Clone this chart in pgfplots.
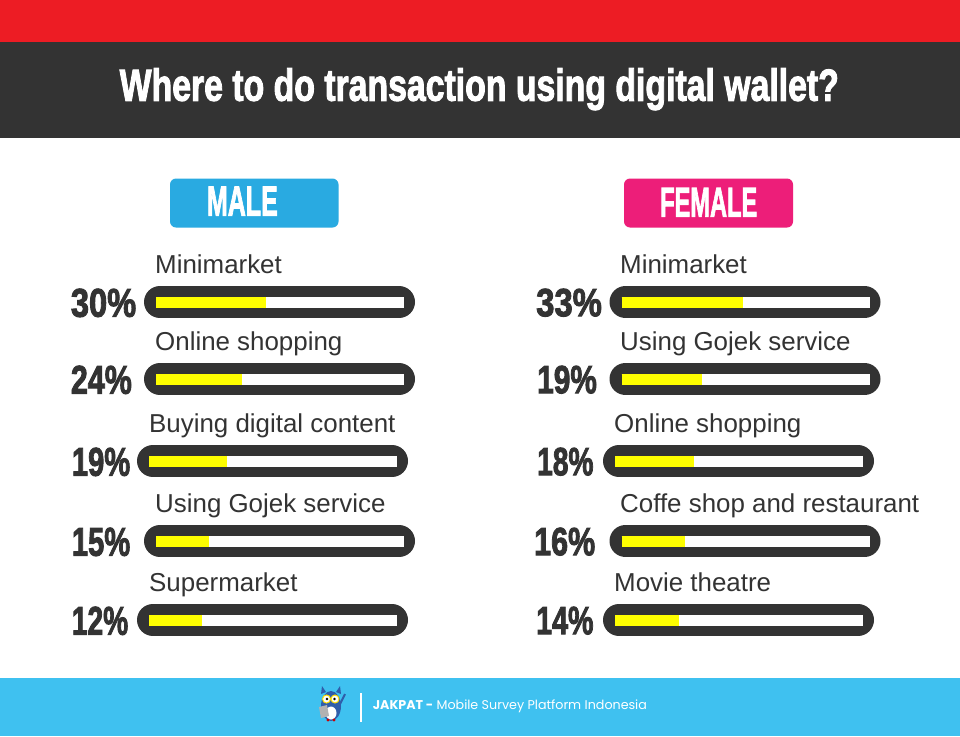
\documentclass[border=0pt]{standalone}
\usepackage{pgfplots}
\pgfplotsset{compat=1.18}
\usepackage{pgfplotstable}
\usepackage{graphicx}
\usepackage{fontspec}
\setmainfont{Liberation Sans}
\newfontfamily\heavy{Liberation Sans}[UprightFont=*-Bold, UprightFeatures={FakeBold=2.5}, BoldFont=*-Bold, BoldFeatures={FakeBold=2.5}]
\newfontfamily\gothic{Poppins}
\definecolor{topred}{HTML}{ED1C24}
\definecolor{dark}{HTML}{333333}
\definecolor{maleblue}{HTML}{29AAE1}
\definecolor{femalepink}{HTML}{ED1E79}
\definecolor{footblue}{HTML}{3FC1F0}
\definecolor{fillyellow}{HTML}{FFFF00}
\definecolor{owlblue}{HTML}{2F5DAA}

% y = row centre (px), left = capsule left edge (px), pct = printed value, fill = yellow length read off (px)
\pgfplotstableread{
y   left  pct fill
302 144   30  110
379 144   24  86
461 137   19  78
541 144   15  53
620 137   12  53
}\maletbl
\pgfplotstableread{
y   left   pct fill
302 609.5  33  121.5
379 609.5  19  80
461 603    18  78.5
541 609.5  16  63.5
620 603    14  64
}\femaletbl

\newcommand\bars[1]{%
  \addplot[no markers, draw=dark, line width=32pt, line cap=round, quiver={u=239,v=0}]
    table[x expr=\thisrow{left}+16, y=y]{#1};
  \addplot[no markers, draw=white, line width=11pt, line cap=butt, quiver={u=248,v=0}]
    table[x expr=\thisrow{left}+12, y=y]{#1};
  \addplot[no markers, draw=fillyellow, line width=11pt, line cap=butt, quiver={u=\thisrow{fill},v=0}]
    table[x expr=\thisrow{left}+12, y=y]{#1};
}
\tikzset{
  lab/.style={anchor=base west, inner sep=0pt, text=dark, font=\fontsize{25.9}{30}\selectfont},
  pc/.style={anchor=base west, inner sep=0pt, text=dark},
}

\begin{document}
\begin{tikzpicture}
\begin{axis}[x=1pt, y=1pt, xmin=0, xmax=960, ymin=0, ymax=736, y dir=reverse,
  hide axis, clip=false, scale only axis]
\fill[white] (axis cs:0,0) rectangle (axis cs:960,736);
\fill[topred] (axis cs:0,0) rectangle (axis cs:960,41.5);
\fill[dark] (axis cs:0,41.5) rectangle (axis cs:960,137.5);
\fill[footblue] (axis cs:0,678) rectangle (axis cs:960,736);
\fill[maleblue, rounded corners=6pt] (axis cs:170,178.5) rectangle (axis cs:338.5,227.5);
\fill[femalepink, rounded corners=6pt] (axis cs:624,178.5) rectangle (axis cs:793,227.5);

\node[anchor=base west, inner sep=0pt, text=white] at (axis cs:119.5,100.7)
  {\resizebox{719pt}{32.5pt}{\heavy Where to do transaction using digital wallet?}};
\node[anchor=base west, inner sep=0pt, text=white] at (axis cs:206.7,215.7)
  {\resizebox{71pt}{29pt}{\heavy MALE}};
\node[anchor=base west, inner sep=0pt, text=white] at (axis cs:660,216.7)
  {\resizebox{97pt}{28.7pt}{\heavy FEMALE}};

\bars{\maletbl}
\bars{\femaletbl}

% male labels
\node[lab] at (axis cs:155,273) {Minimarket};
\node[lab] at (axis cs:155,350) {Online shopping};
\node[lab] at (axis cs:149,432) {Buying digital content};
\node[lab] at (axis cs:155,512) {Using Gojek service};
\node[lab] at (axis cs:149,591) {Supermarket};
% female labels
\node[lab] at (axis cs:620,273) {Minimarket};
\node[lab] at (axis cs:620,350) {Using Gojek service};
\node[lab] at (axis cs:614,432) {Online shopping};
\node[lab] at (axis cs:620,512) {Coffe shop and restaurant};
\node[lab] at (axis cs:614,591) {Movie theatre};

% percentages
\node[pc] at (axis cs:70.7,316.7) {\resizebox{65.3pt}{28pt}{\heavy 30\%}};
\node[pc] at (axis cs:70.7,393.7) {\resizebox{61pt}{28pt}{\heavy 24\%}};
\node[pc] at (axis cs:71.7,475.7) {\resizebox{58.3pt}{28pt}{\heavy 19\%}};
\node[pc] at (axis cs:71.7,555.7) {\resizebox{58.3pt}{28pt}{\heavy 15\%}};
\node[pc] at (axis cs:71.7,634.7) {\resizebox{56.3pt}{28pt}{\heavy 12\%}};
\node[pc] at (axis cs:536,316.2) {\resizebox{65.7pt}{27.5pt}{\heavy 33\%}};
\node[pc] at (axis cs:537,393.2) {\resizebox{59.7pt}{27.5pt}{\heavy 19\%}};
\node[pc] at (axis cs:537,475.2) {\resizebox{56.3pt}{27.5pt}{\heavy 18\%}};
\node[pc] at (axis cs:534,555.2) {\resizebox{61pt}{27.5pt}{\heavy 16\%}};
\node[pc] at (axis cs:536,634.2) {\resizebox{57.3pt}{27.5pt}{\heavy 14\%}};

% footer
\draw[white, line width=2pt] (axis cs:361,693) -- (axis cs:361,722);
\node[anchor=west, inner sep=0pt, text=white] at (axis cs:372.7,706)
  {\resizebox{274pt}{!}{\gothic\bfseries JAKPAT -\mdseries\ Mobile Survey Platform Indonesia}};
% owl logo
\fill[owlblue] (axis cs:331,706) ellipse [x radius=10pt, y radius=15pt];
\fill[owlblue] (axis cs:322,686) -- (axis cs:326,692) -- (axis cs:321,694) -- cycle;
\fill[owlblue] (axis cs:340,686) -- (axis cs:336,692) -- (axis cs:341,694) -- cycle;
\fill[white] (axis cs:331,713) ellipse [x radius=5.5pt, y radius=6.5pt];
\fill[gray!60] (axis cs:319,707) -- (axis cs:327,705) -- (axis cs:329,716) -- (axis cs:321,718) -- cycle;
\draw[fill=white, draw=yellow!80!orange, line width=1pt] (axis cs:326.5,699) circle [radius=4pt];
\draw[fill=white, draw=yellow!80!orange, line width=1pt] (axis cs:335,699) circle [radius=4pt];
\fill[black] (axis cs:327,699) circle [radius=1.4pt];
\fill[black] (axis cs:334.5,699) circle [radius=1.4pt];
\fill[red!80!black] (axis cs:328,720) circle [radius=1.6pt];
\fill[red!80!black] (axis cs:334,720) circle [radius=1.6pt];
\draw[owlblue, line width=2pt] (axis cs:340,704) -- (axis cs:345,694);
\end{axis}
\end{tikzpicture}
\end{document}
